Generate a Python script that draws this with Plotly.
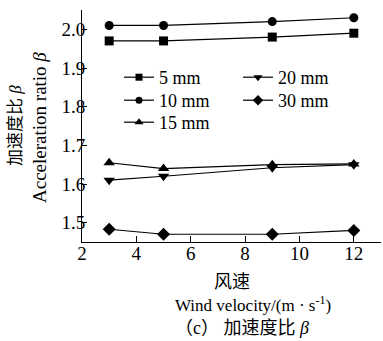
import plotly.graph_objects as go

wind = [3, 5, 9, 12]
series_names = ["5 mm", "10 mm", "15 mm", "20 mm", "30 mm"]
beta_5 = [1.97, 1.97, 1.98, 1.99]
beta_10 = [2.01, 2.01, 2.02, 2.03]
beta_15 = [1.655, 1.64, 1.65, 1.652]
beta_20 = [1.61, 1.62, 1.642, 1.65]
beta_30 = [1.483, 1.47, 1.47, 1.48]
x_ticks = [2, 4, 6, 8, 10, 12]
y_ticks = [1.5, 1.6, 1.7, 1.8, 1.9, 2.0]

values = [beta_5, beta_10, beta_15, beta_20, beta_30]
symbols = ["square", "circle", "triangle-up", "triangle-down", "diamond"]
sizes = [9, 9, 10, 10, 10]
leg_sizes = [7, 7, 8, 8, 8]
# legend slot positions in pixels (text left edge x, row centre y)
leg_pos = [(161, 77), (161, 100), (161, 122), (280, 77), (280, 100)]

FONT = "Liberation Serif, Noto Sans CJK SC, serif"
L, R, T, B = 82, 381, 10, 242

fig = go.Figure()
layout_legends = {}
for i, (name, vals, sym, sz, lsz) in enumerate(zip(series_names, values, symbols, sizes, leg_sizes)):
    lg = "legend" if i == 0 else f"legend{i + 1}"
    fig.add_trace(go.Scatter(
        x=wind, y=vals, mode="lines+markers", name=name,
        line=dict(color="black", width=1.2),
        marker=dict(symbol=sym, size=sz, color="black"),
        showlegend=False,
    ))
    fig.add_trace(go.Scatter(
        x=[None], y=[None], mode="lines+markers", name=name,
        line=dict(color="black", width=1.2),
        marker=dict(symbol=sym, size=lsz, color="black"),
        showlegend=True, legend=lg,
    ))
    tx, ty = leg_pos[i]
    layout_legends[lg] = dict(
        x=(tx - 42 - L) / (R - L), y=(B - (ty - 18)) / (B - T),
        xanchor="left", yanchor="top",
        bgcolor="rgba(0,0,0,0)", font=dict(family=FONT, size=18),
        tracegroupgap=0, itemwidth=30,
    )

fig.update_layout(
    width=383, height=341,
    margin=dict(l=L, r=383 - R, t=T, b=341 - B),
    plot_bgcolor="white", paper_bgcolor="white",
    font=dict(family=FONT, size=18, color="black"),
    **layout_legends,
)

fig.update_xaxes(
    range=[2, 13], tickvals=x_ticks + [13],
    ticktext=[str(v) for v in x_ticks] + [""],
    ticks="inside", ticklen=6, tickwidth=1, tickcolor="black",
    showline=True, linecolor="black", linewidth=1,
    showgrid=False, zeroline=False, tickfont=dict(family=FONT, size=19),
    ticklabelstandoff=-6,
)
fig.update_yaxes(
    range=[1.45, 2.05], tickvals=y_ticks + [2.05],
    ticktext=[f"{v:.1f}" for v in y_ticks] + [""],
    ticks="inside", ticklen=5, tickwidth=1, tickcolor="black",
    showline=True, linecolor="black", linewidth=1,
    showgrid=False, zeroline=False, tickfont=dict(family=FONT, size=19),
    ticklabelstandoff=-8,
)

ann = [
    dict(text="加速度比 <i>β</i>", x=15, y=126, textangle=-90, size=17),
    dict(text="Acceleration ratio <i>β</i>", x=40, y=128, textangle=-90, size=19),
    dict(text="风速", x=232, y=282, textangle=0, size=18),
    dict(text="Wind velocity/(m · s<sup>-1</sup>)", x=253, y=304, textangle=0, size=17),
    dict(text="（c） 加速度比 <i>β</i>", x=242, y=328, textangle=0, size=18),
]
for a in ann:
    fig.add_annotation(
        text=a["text"], xref="paper", yref="paper",
        x=(a["x"] - L) / (R - L), y=(B - a["y"]) / (B - T),
        xanchor="center", yanchor="middle", showarrow=False,
        textangle=a["textangle"], font=dict(family=FONT, size=a["size"], color="black"),
    )

fig.write_html("out.html")
